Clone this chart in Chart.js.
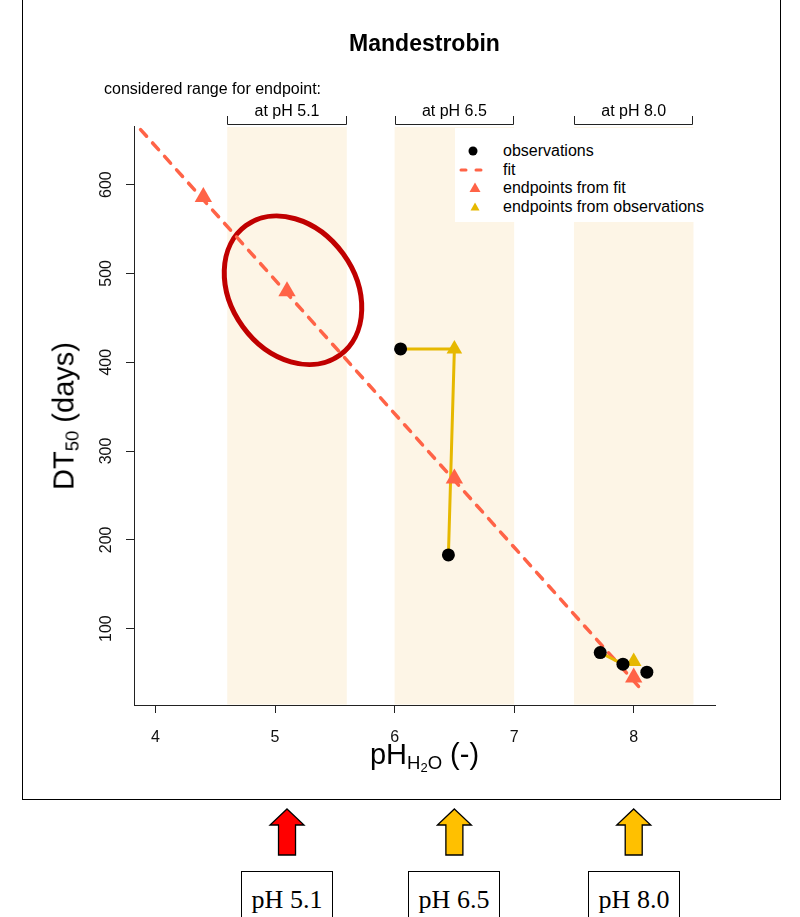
<!DOCTYPE html>
<html lang="en">
<head>
<meta charset="utf-8">
<title>Mandestrobin</title>
<script src="https://cdn.jsdelivr.net/npm/chart.js@4.4.1/dist/chart.umd.min.js"></script>
<style>
  html, body { margin: 0; padding: 0; background: #fff; }
  body { position: relative; width: 800px; height: 917px; overflow: hidden;
         font-family: "Liberation Sans", Arial, sans-serif; color: #000; }
  #frame { position: absolute; left: 22px; top: -2px; width: 759px; height: 802px;
           border: 1px solid #000; box-sizing: border-box; }
  #chartBox { position: absolute; left: 0; top: 0; width: 800px; height: 800px; }
  .lbl { position: absolute; white-space: nowrap; line-height: 1; }
  #title { font-size: 23px; font-weight: bold; }
  #rangeNote, .rangeLbl { font-size: 16px; }
  .axTitle { font-size: 29px; height: 29px; }
  .sub1 { font-size: 0.64em; vertical-align: -0.28em; }
  .sub2 { font-size: 0.7em; vertical-align: -0.22em; }
  #legend { position: absolute; left: 455px; top: 128px; width: 258px; height: 94px; background: #fff; }
  #legend .row { position: absolute; left: 0; width: 258px; height: 18px; }
  #legend svg { position: absolute; left: 0; top: 0; }
  #legend span { position: absolute; left: 48px; top: 1px; font-size: 16px; line-height: 1; white-space: nowrap; }
  #below { position: absolute; left: 0; top: 800px; }
  .phBox { position: absolute; top: 871px; width: 92px; height: 60px; border: 1px solid #000;
           box-sizing: border-box; background: #fff; }
  .phBox span { position: absolute; left: 0; right: 0; top: 15px; text-align: center;
                font-family: "Liberation Serif", "DejaVu Serif", serif; font-size: 26px; line-height: 1; }
</style>
</head>
<body>
<div id="frame"></div>
<div id="chartBox"><canvas id="plot" width="800" height="800"></canvas></div>
<div id="title" class="lbl">Mandestrobin</div>
<div id="rangeNote" class="lbl">considered range for endpoint:</div>
<div id="xTitle" class="lbl axTitle">pH<span class="sub1">H<span class="sub2">2</span>O</span> (-)</div>
<div id="yTitle" class="lbl axTitle">DT<span class="sub1">50</span> (days)</div>
<div id="legend"></div>
<svg id="below" width="800" height="117"></svg>

<script>
// axis ticks / limits
var xTicks = [4, 5, 6, 7, 8];
var yTicks = [100, 200, 300, 400, 500, 600];
var xMin = 3.82, xMax = 8.68;
var yMin = 14, yMax = 666;

// observations
var obsPH = [6.05, 6.45, 7.72, 7.91, 8.11];
var obsDT50 = [415, 183, 73, 60, 51];

// fitted line (two ends)
var fitPH = [3.875, 8.08];
var fitDT50 = [662, 29];

// endpoints from fit
var fitEndpointPH = [4.4, 5.1, 6.5, 8.0];
var fitEndpointDT50 = [586, 480, 269, 45];

// endpoints from observations
var obsEndpointPH = [6.5, 8.0];
var obsEndpointDT50 = [415, 63];

// lines linking observations to their endpoint
var obsPathPH65 = [6.05, 6.5, 6.45];
var obsPathDT65 = [415, 415, 183];
var obsPathPH80 = [7.72, 7.91, 8.0];
var obsPathDT80 = [73, 60, 63];

// considered ranges
var rangeLow = [4.6, 6.0, 7.5];
var rangeHigh = [5.6, 7.0, 8.5];
var rangeLabels = ['at pH 5.1', 'at pH 6.5', 'at pH 8.0'];

// boxes under the chart
var endpointPH = [5.1, 6.5, 8.0];
var endpointLabels = ['pH 5.1', 'pH 6.5', 'pH 8.0'];
var arrowColors = ['#FF0000', '#FFC000', '#FFC000'];

var legendLabels = ['observations', 'fit', 'endpoints from fit', 'endpoints from observations'];

// highlighted endpoint (ellipse)
var highlightPH = 5.15, highlightDT50 = 481;

var TOMATO = '#FF6347';
var GOLD = '#E6B800';
var BAND = '#FDF5E6';
var AXIS = '#222';
var FONT = '"Liberation Sans", Arial, sans-serif';

Chart.defaults.font.family = FONT;
Chart.defaults.color = '#000';

function pts(xs, ys) {
  return xs.map(function(v, i) { return { x: v, y: ys[i] }; });
}

var bandsPlugin = {
  id: 'bands',
  beforeDatasetsDraw: function(chart) {
    var ctx = chart.ctx, area = chart.chartArea;
    var x = chart.scales.x, y = chart.scales.y;
    ctx.save();
    rangeLow.forEach(function(lo, i) {
      var x0 = x.getPixelForValue(lo), x1 = x.getPixelForValue(rangeHigh[i]);
      ctx.fillStyle = BAND;
      ctx.fillRect(x0, area.top + 1, x1 - x0, area.bottom - area.top - 1.5);
      // bracket above the band
      ctx.strokeStyle = AXIS;
      ctx.lineWidth = 1;
      ctx.beginPath();
      ctx.moveTo(Math.round(x0) + 0.5, area.top - 10);
      ctx.lineTo(Math.round(x0) + 0.5, area.top - 1.5);
      ctx.lineTo(Math.round(x1) - 0.5, area.top - 1.5);
      ctx.lineTo(Math.round(x1) - 0.5, area.top - 10);
      ctx.stroke();
    });
    // ellipse round the pH 5.1 endpoint
    var cx = x.getPixelForValue(highlightPH), cy = y.getPixelForValue(highlightDT50);
    ctx.strokeStyle = '#C00000';
    ctx.lineWidth = 5;
    ctx.beginPath();
    ctx.ellipse(cx, cy, 80, 62, 54 * Math.PI / 180, 0, Math.PI * 2);
    ctx.stroke();
    ctx.restore();
  }
};

var ctx = document.getElementById('plot');
var chart = new Chart(ctx, {
  type: 'scatter',
  data: {
    datasets: [
      {
        label: 'observations',
        data: pts(obsPH, obsDT50),
        pointStyle: 'circle',
        pointRadius: 6.5,
        backgroundColor: '#000',
        borderWidth: 0
      },
      {
        label: 'endpoints from observations',
        data: pts(obsEndpointPH, obsEndpointDT50),
        pointStyle: 'triangle',
        pointRadius: 9,
        backgroundColor: GOLD,
        borderWidth: 0
      },
      {
        label: 'endpoints from fit',
        data: pts(fitEndpointPH, fitEndpointDT50),
        pointStyle: 'triangle',
        pointRadius: 10,
        backgroundColor: TOMATO,
        borderWidth: 0
      },
      {
        label: 'path pH 6.5',
        data: pts(obsPathPH65, obsPathDT65),
        showLine: true,
        pointRadius: 0,
        borderColor: GOLD,
        borderWidth: 3,
        borderCapStyle: 'round',
        borderJoinStyle: 'round'
      },
      {
        label: 'path pH 8.0',
        data: pts(obsPathPH80, obsPathDT80),
        showLine: true,
        pointRadius: 0,
        borderColor: GOLD,
        borderWidth: 3,
        borderCapStyle: 'round',
        borderJoinStyle: 'round'
      },
      {
        label: 'fit',
        data: pts(fitPH, fitDT50),
        showLine: true,
        pointRadius: 0,
        borderColor: TOMATO,
        borderWidth: 3.5,
        borderDash: [9, 9],
        borderCapStyle: 'round'
      }
    ]
  },
  options: {
    responsive: false,
    animation: false,
    devicePixelRatio: 1,
    events: [],
    layout: { padding: { left: 0, right: 85, top: 126, bottom: 0 } },
    plugins: {
      legend: { display: false },
      title: { display: false },
      tooltip: { enabled: false }
    },
    scales: {
      x: {
        type: 'linear',
        min: xMin,
        max: xMax,
        afterBuildTicks: function(s) { s.ticks = xTicks.map(function(v) { return { value: v }; }); },
        afterFit: function(s) { s.height = 95; },
        grid: { drawOnChartArea: false, drawTicks: true, tickLength: 8, color: AXIS, tickColor: AXIS, lineWidth: 1 },
        border: { display: true, color: AXIS, width: 1 },
        ticks: { autoSkip: false, maxRotation: 0, padding: 15, color: '#111', font: { size: 16 } }
      },
      y: {
        type: 'linear',
        min: yMin,
        max: yMax,
        afterBuildTicks: function(s) { s.ticks = yTicks.map(function(v) { return { value: v }; }); },
        afterFit: function(s) { s.width = 134; },
        grid: { drawOnChartArea: false, drawTicks: true, tickLength: 8, color: AXIS, tickColor: AXIS, lineWidth: 1 },
        border: { display: true, color: AXIS, width: 1 },
        ticks: { autoSkip: false, minRotation: 90, maxRotation: 90, crossAlign: 'center', padding: 6,
                 color: '#111', font: { size: 16 } }
      }
    }
  },
  plugins: [bandsPlugin]
});

// text around the plot, placed from the chart's own scales
var area = chart.chartArea;
var sx = chart.scales.x;
var midX = (area.left + area.right) / 2;
var midY = (area.top + area.bottom) / 2;

function centerAt(el, cx, cy, extra) {
  el.style.left = cx + 'px';
  el.style.top = cy + 'px';
  el.style.transform = 'translate(-50%, -50%)' + (extra || '');
}

centerAt(document.getElementById('title'), midX, 43);

var note = document.getElementById('rangeNote');
note.style.left = '104px';
note.style.top = '81px';

rangeLabels.forEach(function(txt, i) {
  var d = document.createElement('div');
  d.className = 'lbl rangeLbl';
  d.textContent = txt;
  document.body.appendChild(d);
  centerAt(d, (sx.getPixelForValue(rangeLow[i]) + sx.getPixelForValue(rangeHigh[i])) / 2, 111);
});

var xt = document.getElementById('xTitle');
xt.style.left = midX + 'px';
xt.style.top = '740px';
xt.style.transform = 'translateX(-50%)';

centerAt(document.getElementById('yTitle'), 64, midY, ' rotate(-90deg)');

// legend
var legend = document.getElementById('legend');
var symbols = [
  '<circle cx="18" cy="9" r="4.5" fill="#000"/>',
  '<line x1="6" y1="9" x2="27" y2="9" stroke="' + TOMATO + '" stroke-width="3" stroke-linecap="round" stroke-dasharray="5 10"/>',
  '<polygon points="20,3.5 25.5,13 14.5,13" fill="' + TOMATO + '"/>',
  '<polygon points="20,4.5 24.5,12.5 15.5,12.5" fill="' + GOLD + '"/>'
];
var rowCenters = [23, 42, 60, 79];
legendLabels.forEach(function(txt, i) {
  var r = document.createElement('div');
  r.className = 'row';
  r.style.top = (rowCenters[i] - 9) + 'px';
  r.innerHTML = '<svg width="40" height="18">' + symbols[i] + '</svg><span>' + txt + '</span>';
  legend.appendChild(r);
});

// arrows and boxes under the chart
var below = document.getElementById('below');
var svg = '';
endpointPH.forEach(function(ph, i) {
  var cx = sx.getPixelForValue(ph);
  var d = 'M' + cx + ',9 L' + (cx + 17) + ',25 L' + (cx + 8.5) + ',25 L' + (cx + 8.5) + ',55 L' +
          (cx - 8.5) + ',55 L' + (cx - 8.5) + ',25 L' + (cx - 17) + ',25 Z';
  svg += '<path d="' + d + '" fill="' + arrowColors[i] + '" stroke="#000" stroke-width="1.3" stroke-linejoin="miter"/>';

  var box = document.createElement('div');
  box.className = 'phBox';
  box.style.left = Math.round(cx - 46) + 'px';
  box.innerHTML = '<span>' + endpointLabels[i] + '</span>';
  document.body.appendChild(box);
});
below.innerHTML = svg;
</script>
</body>
</html>
